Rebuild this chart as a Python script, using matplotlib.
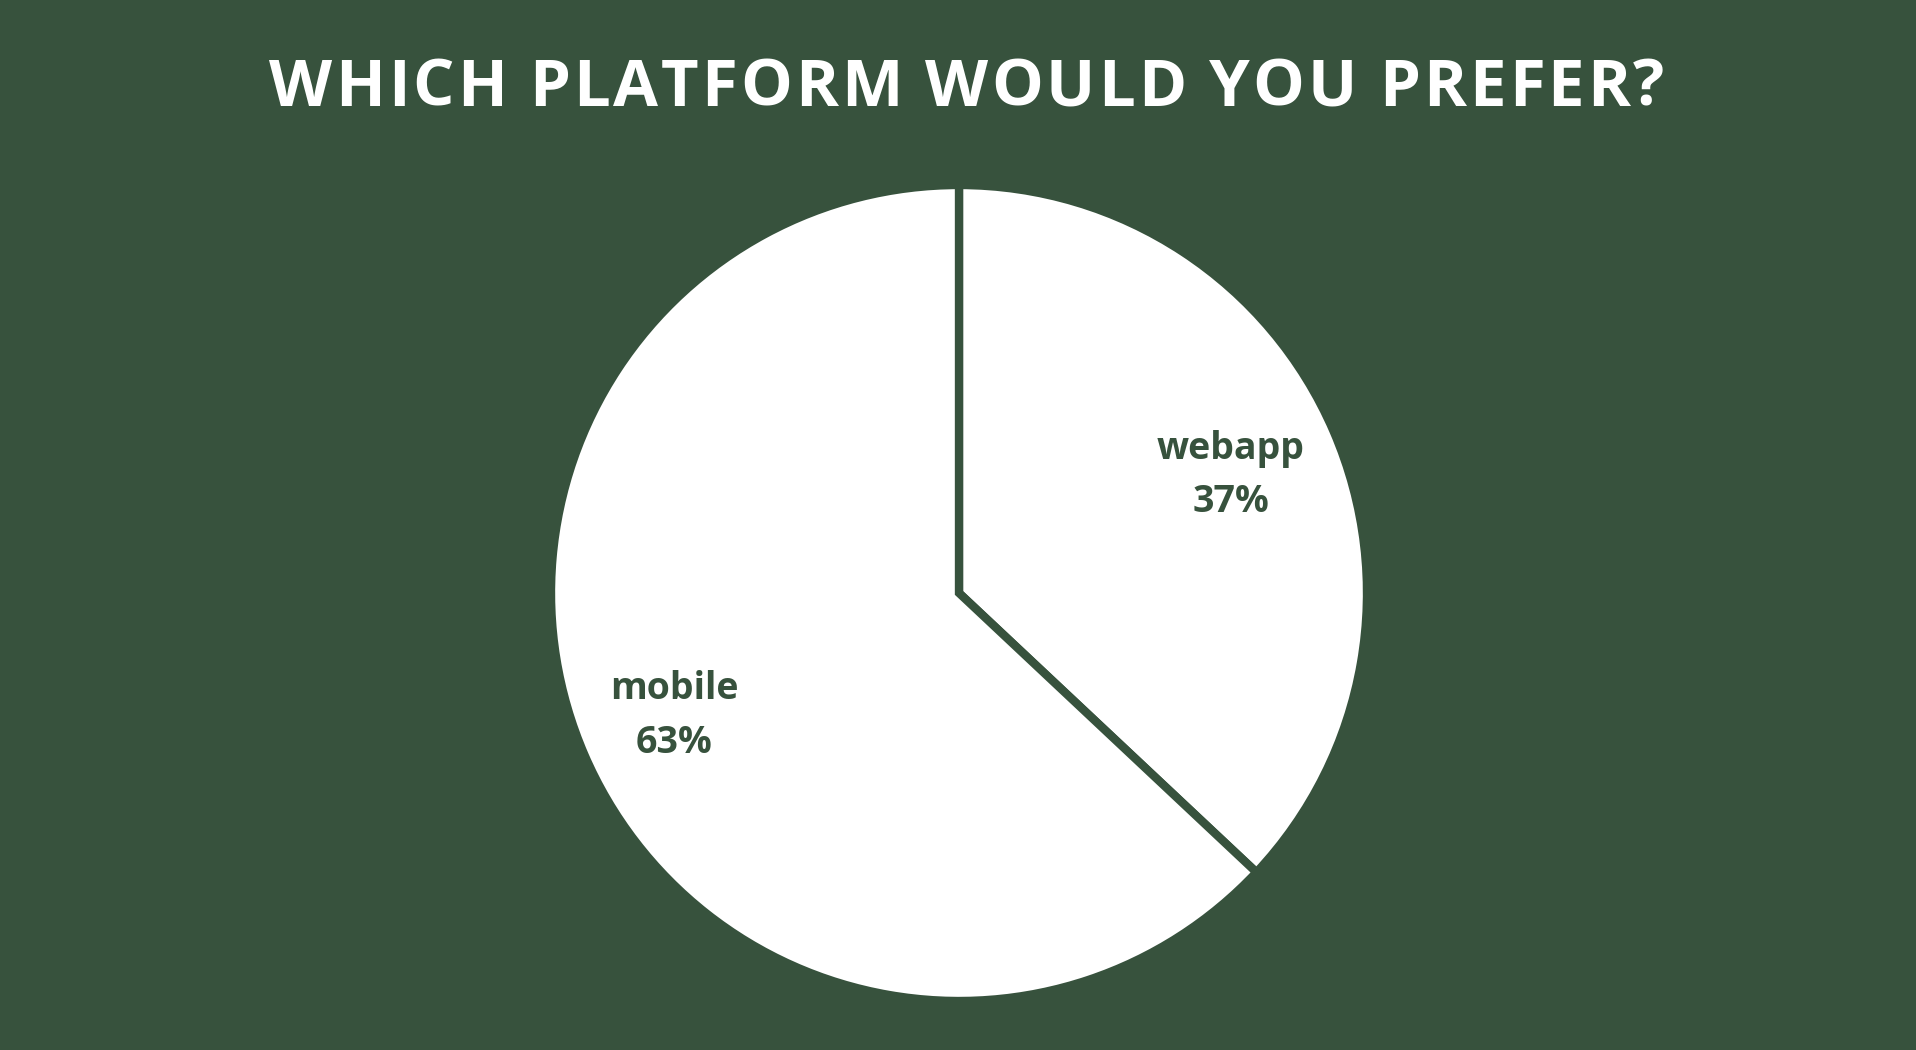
import matplotlib.pyplot as plt
import numpy as np

categories = ['webapp', 'mobile']
shares = [37, 63]
title = 'WHICH PLATFORM WOULD YOU PREFER?'

bg = '#37523D'

fig = plt.figure(figsize=(19.16, 10.5), dpi=100)
fig.patch.set_facecolor(bg)

# pie axes: centre ~(959, 593) px, radius ~404 px
ax = fig.add_axes([(959 - 408) / 1916, (457 - 408) / 1050, 816 / 1916, 816 / 1050])
ax.set_facecolor(bg)

wedges, _ = ax.pie(shares, startangle=90, counterclock=False, radius=1.0,
                   colors=['white', 'white'],
                   wedgeprops=dict(edgecolor=bg, linewidth=6, joinstyle='miter'))
ax.set_xlim(-1, 1)
ax.set_ylim(-1, 1)
ax.set_aspect('equal')
ax.axis('off')

dist = [0.725, 0.76]
for w, name, val, d in zip(wedges, categories, shares, dist):
    ang = np.deg2rad((w.theta1 + w.theta2) / 2)
    ax.text(d * np.cos(ang), d * np.sin(ang), f'{name}\n{val}%',
            ha='center', va='center', color=bg, fontsize=27,
            fontweight='bold', family='Open Sans', linespacing=1.55)

# title with letter spacing, drawn char by char
renderer = fig.canvas.get_renderer()
tkw = dict(color='white', fontsize=47, fontweight='bold', family='Open Sans')


def width_px(s):
    t = fig.text(0, 0, s, **tkw)
    w = t.get_window_extent(renderer).width
    t.remove()
    return w


space_w = width_px('a a') - width_px('aa')
widths = [space_w if c == ' ' else width_px(c) for c in title]
x_left, x_right = 269, 1664
gap = (x_right - x_left - sum(widths)) / (len(title) - 1)
x = x_left
for c, w in zip(title, widths):
    if c != ' ':
        fig.text(x / 1916, 1 - 106 / 1050, c, ha='left', va='baseline', **tkw)
    x += w + gap

fig.savefig('out.png', dpi=100, facecolor=bg)
